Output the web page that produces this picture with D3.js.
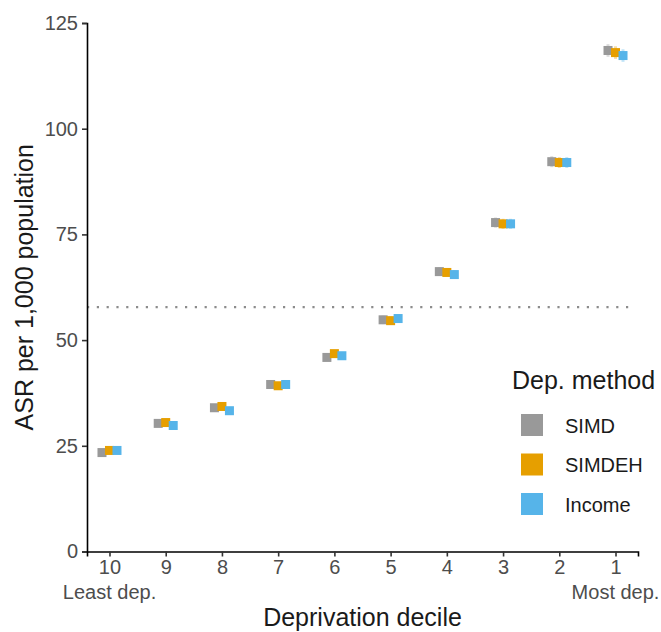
<!DOCTYPE html>
<html>
<head>
<meta charset="utf-8">
<script src="https://cdn.jsdelivr.net/npm/d3@7"></script>
<style>
  body { margin: 0; background: #fff; }
  text { font-family: "Liberation Sans", Arial, sans-serif; }
</style>
</head>
<body>
<div id="chart"></div>
<script>
// deciles, least deprived first
var deciles = ["10", "9", "8", "7", "6", "5", "4", "3", "2", "1"];
var methods = ["SIMD", "SIMDEH", "Income"];
var colors = ["#999999", "#E69F00", "#56B4E9"];

// ASR per 1,000 by decile (same order as deciles)
var simd   = [23.4, 30.3, 34.0, 39.5, 45.9, 54.8, 66.2, 77.8, 92.2, 118.5];
var simdeh = [23.9, 30.5, 34.3, 39.2, 46.8, 54.6, 66.0, 77.5, 92.0, 118.0];
var income = [23.9, 29.8, 33.3, 39.5, 46.3, 55.1, 65.5, 77.5, 92.0, 117.3];
// half width of the confidence interval
var ciHalf = [0.8, 0.8, 0.8, 0.9, 0.9, 1.0, 1.0, 1.2, 1.3, 1.5];

var overall = 57.8;
var yTicks = [0, 25, 50, 75, 100, 125];

var W = 661, H = 632;
var margin = {top: 23, right: 23, bottom: 81, left: 87},
    width = 638 - margin.left,
    height = 551.5 - margin.top;

var svg = d3.select("#chart").append("svg")
    .attr("width", W)
    .attr("height", H);

var g = svg.append("g")
    .attr("transform", "translate(" + margin.left + "," + margin.top + ")");

var x = d3.scalePoint().domain(deciles).range([0, width]).padding(0.4);
var dodge = d3.scalePoint().domain(methods).range([-7.5, 7.5]);
var y = d3.scaleLinear().domain([0, 125]).range([height, 0]);
var color = d3.scaleOrdinal().domain(methods).range(colors);

var series = [simd, simdeh, income];
var data = [];
methods.forEach(function(m, j) {
  deciles.forEach(function(d, i) {
    data.push({method: m, decile: d, value: series[j][i], ci: ciHalf[i]});
  });
});

// overall reference line
g.append("line")
    .attr("x1", 0).attr("x2", width - 3)
    .attr("y1", y(overall)).attr("y2", y(overall))
    .attr("stroke", "#8c8c8c")
    .attr("stroke-width", 2.2)
    .attr("stroke-dasharray", "2.2,7.6");

// error bars
g.selectAll(".err")
    .data(data)
  .enter().append("line")
    .attr("class", "err")
    .attr("x1", function(d) { return x(d.decile) + dodge(d.method); })
    .attr("x2", function(d) { return x(d.decile) + dodge(d.method); })
    .attr("y1", function(d) { return y(d.value - d.ci); })
    .attr("y2", function(d) { return y(d.value + d.ci); })
    .attr("stroke", function(d) { return color(d.method); })
    .attr("stroke-opacity", 0.35)
    .attr("stroke-width", 3);

// points
var s = 9;
g.selectAll(".pt")
    .data(data)
  .enter().append("rect")
    .attr("class", "pt")
    .attr("x", function(d) { return x(d.decile) + dodge(d.method) - s / 2; })
    .attr("y", function(d) { return y(d.value) - s / 2; })
    .attr("width", s)
    .attr("height", s)
    .attr("fill", function(d) { return color(d.method); });

// axes
var yAxis = d3.axisLeft(y).tickValues(yTicks).tickSize(5).tickPadding(4);
var gy = g.append("g").call(yAxis);
gy.select(".domain").attr("stroke", "#000").attr("stroke-width", 1.6);
gy.selectAll(".tick line").attr("stroke", "#333").attr("stroke-width", 1.6);
gy.selectAll(".tick text").attr("fill", "#4d4d4d").style("font-size", "20px")
    .style("font-family", "'Liberation Sans', Arial, sans-serif");

var xAxis = d3.axisBottom(x).tickSize(5).tickPadding(3);
var gx = g.append("g")
    .attr("transform", "translate(0," + height + ")")
    .call(xAxis);
gx.select(".domain").attr("stroke", "#000").attr("stroke-width", 1.6);
gx.selectAll(".tick line").attr("stroke", "#333").attr("stroke-width", 1.6);
gx.selectAll(".tick text").attr("fill", "#4d4d4d").style("font-size", "20px")
    .style("font-family", "'Liberation Sans', Arial, sans-serif");

// extremes under the tick labels
gx.append("text")
    .attr("x", x("10")).attr("y", 47)
    .attr("text-anchor", "middle")
    .attr("fill", "#4d4d4d").style("font-size", "20px")
    .text("Least dep.");
gx.append("text")
    .attr("x", x("1")).attr("y", 47)
    .attr("text-anchor", "middle")
    .attr("fill", "#4d4d4d").style("font-size", "20px")
    .text("Most dep.");

// axis titles
svg.append("text")
    .attr("x", margin.left + width / 2).attr("y", 626)
    .attr("text-anchor", "middle")
    .attr("fill", "#1a1a1a").style("font-size", "25px")
    .text("Deprivation decile");

svg.append("text")
    .attr("transform", "translate(33," + (margin.top + height / 2) + ") rotate(-90)")
    .attr("text-anchor", "middle")
    .attr("fill", "#1a1a1a").style("font-size", "25px")
    .text("ASR per 1,000 population");

// legend
var legend = svg.append("g").attr("transform", "translate(512,0)");
legend.append("text")
    .attr("x", 0).attr("y", 389)
    .attr("fill", "#1a1a1a").style("font-size", "25px")
    .text("Dep. method");

var items = legend.selectAll(".key")
    .data(methods)
  .enter().append("g")
    .attr("class", "key")
    .attr("transform", function(d, i) { return "translate(0," + (425 + i * 39.5) + ")"; });
items.append("rect")
    .attr("x", 9).attr("y", -11)
    .attr("width", 22).attr("height", 22)
    .attr("fill", function(d) { return color(d); });
items.append("text")
    .attr("x", 53).attr("y", 7.5)
    .attr("fill", "#1a1a1a").style("font-size", "20px")
    .text(function(d) { return d; });
</script>
</body>
</html>
